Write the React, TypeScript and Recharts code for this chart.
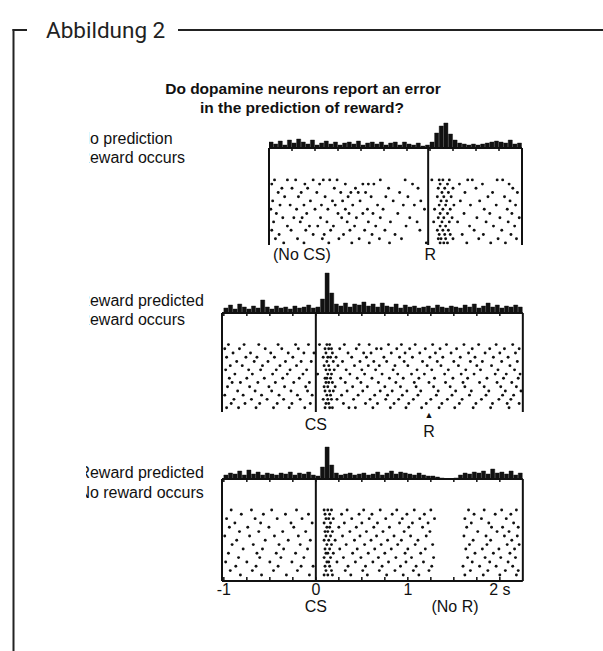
import React from "react";
import {
  Bar,
  BarChart,
  ReferenceLine,
  Scatter,
  ScatterChart,
  XAxis,
  YAxis,
} from "recharts";

// histogram bin width (s) and horizontal scale shared by all panels
const BIN = 0.05;
const PX_PER_S = 92;
const CS_TIME = 0;
const R_TIME = 1.23;

// histograms, 0.05 s bins (px-high counts)
const hist1 = [
  6, 4, 7, 3, 8, 5, 9, 6, 4, 8, 3, 5, 7, 4, 6, 3, 5, 6, 4, 7, 3, 5, 6, 4, 6, 3, 5, 6, 3, 6,
  4, 3, 5, 2, 3, 6, 15, 22, 25, 14, 8, 5, 4, 3, 4, 3, 4, 5, 6, 7, 6, 5, 8, 4, 5,
];
const hist2 = [
  5, 8, 4, 9, 6, 4, 7, 5, 13, 6, 4, 7, 5, 6, 4, 7, 5, 6, 8, 5, 6, 14, 40, 20, 9, 7, 10, 6, 9, 8,
  11, 7, 9, 6, 10, 7, 6, 9, 5, 8, 6, 7, 5, 6, 7, 5, 8, 6, 5, 7, 6, 5, 8, 6, 9, 5, 7, 10, 6, 8,
  5, 7, 6, 8, 6,
];
const hist3 = [
  4, 6, 5, 8, 4, 9, 5, 7, 4, 6, 5, 4, 6, 5, 7, 4, 6, 5, 7, 4, 3, 12, 32, 14, 6, 4, 5, 6, 4, 5,
  6, 4, 5, 7, 4, 6, 8, 5, 7, 6, 5, 4, 6, 4, 3, 3, 2, 1, 0, 0, 1, 4, 6, 5, 7, 6, 8, 5, 10, 6,
  7, 5, 8, 4, 6,
];

// spike rasters: one row per trial, spike times in s relative to CS
const raster1 = [
  [-0.44, -0.3, -0.21, -0.02, 0.09, 0.16, 0.24, 0.71, 0.98, 1.27, 1.35, 1.39, 1.46, 1.66, 1.71, 1.98, 2.04],
  [-0.47, -0.11, 0.05, 0.33, 0.52, 0.58, 0.64, 1.06, 1.36, 1.44, 1.57, 1.82, 2.11],
  [-0.36, -0.25, -0.08, 0.21, 0.44, 0.8, 1.12, 1.34, 1.41, 1.5, 1.75, 2.15],
  [-0.4, -0.15, 0.02, 0.28, 0.39, 0.47, 0.55, 0.92, 1.38, 1.45, 1.63, 1.93, 2.2],
  [-0.33, -0.18, 0.11, 0.36, 0.61, 0.77, 1.01, 1.33, 1.4, 1.48, 1.88, 2.06],
  [-0.46, -0.05, 0.19, 0.3, 0.49, 0.85, 1.15, 1.37, 1.43, 1.58, 1.79, 2.12],
  [-0.38, -0.27, -0.12, 0.07, 0.22, 0.41, 0.68, 0.96, 1.08, 1.35, 1.42, 1.51, 1.69, 1.97, 2.18],
  [-0.48, -0.2, 0.0, 0.14, 0.33, 0.57, 0.74, 1.19, 1.3, 1.39, 1.47, 1.84, 2.09],
  [-0.42, -0.09, 0.25, 0.37, 0.52, 0.63, 0.9, 1.36, 1.44, 1.62, 1.9, 2.14],
  [-0.35, -0.23, -0.14, 0.06, 0.29, 0.45, 0.71, 1.03, 1.34, 1.4, 1.49, 1.76, 2.01, 2.22],
  [-0.45, -0.16, 0.13, 0.35, 0.58, 0.82, 1.11, 1.29, 1.38, 1.46, 1.55, 1.86, 2.1],
  [-0.3, -0.06, 0.03, 0.2, 0.43, 0.66, 0.99, 1.36, 1.42, 1.68, 1.94, 2.17],
  [-0.47, -0.26, -0.1, 0.17, 0.38, 0.54, 0.76, 1.14, 1.33, 1.39, 1.45, 1.73, 2.03],
  [-0.39, -0.02, 0.1, 0.31, 0.62, 0.87, 1.35, 1.41, 1.47, 1.6, 1.83, 2.13],
  [-0.43, -0.19, 0.08, 0.26, 0.48, 0.7, 0.94, 1.34, 1.37, 1.42, 1.5, 1.78, 1.99, 2.19],
  [-0.34, -0.12, 0.15, 0.4, 0.59, 0.81, 1.21, 1.36, 1.4, 1.44, 1.65, 1.91, 2.07],
];
const raster2 = [
  [-0.95, -0.78, -0.62, -0.41, -0.22, -0.08, 0.04, 0.12, 0.15, 0.31, 0.47, 0.58, 0.79, 0.93, 1.08, 1.27, 1.42, 1.61, 1.77, 1.96, 2.14],
  [-0.99, -0.83, -0.55, -0.37, -0.19, 0.1, 0.14, 0.17, 0.26, 0.44, 0.66, 0.71, 0.88, 1.02, 1.19, 1.35, 1.53, 1.7, 1.89, 2.05, 2.21],
  [-0.9, -0.71, -0.49, -0.3, -0.13, -0.02, 0.11, 0.18, 0.35, 0.52, 0.6, 0.82, 0.97, 1.13, 1.3, 1.47, 1.66, 1.84, 2.0, 2.17],
  [-0.97, -0.76, -0.64, -0.45, -0.25, 0.08, 0.13, 0.16, 0.22, 0.39, 0.55, 0.74, 0.91, 1.05, 1.24, 1.38, 1.57, 1.73, 1.93, 2.09],
  [-0.86, -0.67, -0.52, -0.33, -0.16, -0.05, 0.12, 0.19, 0.29, 0.48, 0.63, 0.77, 0.96, 1.16, 1.32, 1.5, 1.68, 1.81, 2.02, 2.19],
  [-0.93, -0.8, -0.58, -0.39, -0.21, 0.09, 0.14, 0.24, 0.42, 0.57, 0.69, 0.86, 1.0, 1.21, 1.36, 1.55, 1.75, 1.91, 2.11],
  [-0.98, -0.73, -0.6, -0.43, -0.28, -0.1, 0.11, 0.15, 0.2, 0.33, 0.5, 0.65, 0.84, 1.1, 1.26, 1.44, 1.63, 1.79, 1.98, 2.16],
  [-0.88, -0.69, -0.47, -0.31, -0.14, 0.02, 0.13, 0.17, 0.37, 0.53, 0.72, 0.89, 1.04, 1.18, 1.4, 1.58, 1.72, 1.95, 2.07, 2.22],
  [-0.94, -0.75, -0.56, -0.36, -0.18, 0.1, 0.12, 0.16, 0.27, 0.45, 0.61, 0.8, 0.95, 1.12, 1.29, 1.49, 1.65, 1.86, 2.04, 2.2],
  [-0.91, -0.82, -0.63, -0.44, -0.24, -0.07, 0.11, 0.14, 0.18, 0.32, 0.49, 0.68, 0.87, 1.07, 1.23, 1.41, 1.6, 1.78, 1.97, 2.13],
  [-0.96, -0.72, -0.51, -0.34, -0.11, 0.09, 0.13, 0.21, 0.4, 0.56, 0.75, 0.92, 1.09, 1.28, 1.46, 1.62, 1.83, 2.01, 2.18],
  [-0.85, -0.66, -0.48, -0.27, -0.09, 0.1, 0.15, 0.19, 0.34, 0.51, 0.7, 0.83, 0.99, 1.14, 1.33, 1.52, 1.69, 1.88, 2.06, 2.23],
  [-0.99, -0.79, -0.59, -0.4, -0.2, -0.04, 0.12, 0.16, 0.28, 0.46, 0.64, 0.78, 0.94, 1.11, 1.31, 1.48, 1.67, 1.85, 2.03, 2.15],
  [-0.89, -0.7, -0.53, -0.35, -0.17, 0.08, 0.13, 0.17, 0.23, 0.41, 0.59, 0.76, 0.9, 1.06, 1.25, 1.43, 1.59, 1.8, 1.99, 2.12],
  [-0.92, -0.77, -0.61, -0.42, -0.26, -0.06, 0.11, 0.14, 0.3, 0.54, 0.67, 0.85, 1.01, 1.2, 1.37, 1.56, 1.74, 1.92, 2.08, 2.21],
  [-0.97, -0.84, -0.65, -0.46, -0.29, -0.12, 0.1, 0.15, 0.18, 0.36, 0.43, 0.62, 0.81, 0.98, 1.15, 1.34, 1.51, 1.71, 1.9, 2.1],
];
const raster3 = [
  [-0.92, -0.7, -0.48, -0.21, 0.09, 0.13, 0.17, 0.34, 0.52, 0.7, 0.88, 1.07, 1.25, 1.66, 1.83, 2.02, 2.18],
  [-0.81, -0.57, -0.33, -0.08, 0.1, 0.15, 0.28, 0.47, 0.61, 0.83, 0.99, 1.18, 1.72, 1.95, 2.12],
  [-0.97, -0.66, -0.42, -0.15, 0.11, 0.14, 0.19, 0.39, 0.58, 0.76, 0.94, 1.13, 1.29, 1.62, 1.8, 2.07],
  [-0.88, -0.6, -0.27, -0.04, 0.09, 0.16, 0.31, 0.5, 0.67, 0.91, 1.05, 1.22, 1.69, 1.88, 2.15],
  [-0.94, -0.74, -0.51, -0.24, 0.12, 0.15, 0.25, 0.44, 0.63, 0.8, 1.01, 1.16, 1.64, 1.91, 2.03, 2.2],
  [-0.83, -0.62, -0.36, -0.11, 0.1, 0.13, 0.18, 0.37, 0.55, 0.73, 0.96, 1.24, 1.76, 1.97, 2.1],
  [-0.99, -0.72, -0.45, -0.19, 0.11, 0.16, 0.29, 0.48, 0.66, 0.85, 1.03, 1.2, 1.61, 1.85, 2.05, 2.19],
  [-0.86, -0.55, -0.3, -0.06, 0.09, 0.14, 0.21, 0.42, 0.6, 0.78, 0.93, 1.11, 1.71, 1.9, 2.13],
  [-0.91, -0.68, -0.4, -0.17, 0.12, 0.17, 0.33, 0.53, 0.71, 0.89, 1.08, 1.27, 1.67, 1.86, 2.08, 2.21],
  [-0.79, -0.58, -0.35, -0.09, 0.1, 0.15, 0.26, 0.45, 0.64, 0.82, 1.0, 1.19, 1.63, 1.81, 1.99, 2.16],
  [-0.95, -0.64, -0.43, -0.22, 0.11, 0.13, 0.19, 0.4, 0.57, 0.75, 0.97, 1.14, 1.73, 1.93, 2.11],
  [-0.84, -0.61, -0.38, -0.13, 0.09, 0.16, 0.3, 0.49, 0.68, 0.87, 1.04, 1.28, 1.65, 1.84, 2.01, 2.17],
  [-0.98, -0.75, -0.5, -0.26, 0.12, 0.14, 0.23, 0.43, 0.62, 0.79, 0.98, 1.17, 1.7, 1.89, 2.09],
  [-0.87, -0.65, -0.41, -0.16, -0.03, 0.1, 0.15, 0.35, 0.54, 0.72, 0.92, 1.09, 1.26, 1.6, 1.78, 1.96, 2.14],
  [-0.93, -0.69, -0.46, -0.2, 0.11, 0.17, 0.32, 0.51, 0.69, 0.86, 1.06, 1.23, 1.68, 1.87, 2.06, 2.2],
  [-0.82, -0.59, -0.32, -0.07, 0.09, 0.13, 0.18, 0.38, 0.56, 0.77, 0.95, 1.12, 1.62, 1.82, 2.0, 2.18],
];

const axisTicks = [-1, -0.75, -0.5, -0.25, 0, 0.25, 0.5, 0.75, 1, 1.25, 1.5, 1.75, 2];
const axisLabels: Record<string, string> = { "-1": "-1", "0": "0", "1": "1", "2": "2 s" };

const title = ["Do dopamine neurons report an error", "in the prediction of reward?"];
const panelLabels = [
  ["No prediction", "Reward occurs"],
  ["Reward predicted", "Reward occurs"],
  ["Reward predicted", "No reward occurs"],
];

const INK = "#111";
const SANS = "'Liberation Sans', Arial, sans-serif";

const panels = [
  { hist: hist1, histStart: -0.5, trials: raster1, tMin: -0.5, tMax: 2.25, left: 269, base: 148, histMax: 30, boxBottom: 245, yDomain: [-7.6, 15.5], event: R_TIME, axis: false },
  { hist: hist2, histStart: -1, trials: raster2, tMin: -1.02, tMax: 2.25, left: 222, base: 313, histMax: 50, boxBottom: 412, yDomain: [-7.5, 16], event: CS_TIME, axis: false },
  { hist: hist3, histStart: -1, trials: raster3, tMin: -1.02, tMax: 2.25, left: 222, base: 479, histMax: 36, boxBottom: 581, yDomain: [-7.15, 16.4], event: CS_TIME, axis: true },
];

const xOf = (p: any, t: number) => p.left + (t - p.tMin) * PX_PER_S;

const EmptyTick = () => <g />;

const AxisTick = (p: any) => {
  const lab = axisLabels[String(p.payload.value)];
  return (
    <g>
      <line x1={p.x} x2={p.x} y1={p.y - 4} y2={p.y} stroke={INK} strokeWidth={1.5} />
      {lab && (
        <text x={p.x} y={p.y + 9} textAnchor="middle" dominantBaseline="central" fontSize={16} fontFamily={SANS} fill={INK}>
          {lab}
        </text>
      )}
    </g>
  );
};

const SpikeDot = (p: any) => <circle cx={p.cx} cy={p.cy} r={1.45} fill={INK} />;

function Panel({ cfg }: { cfg: any }) {
  const M = 14;
  const w = (cfg.tMax - cfg.tMin) * PX_PER_S;
  const bins = cfg.hist.map((v: number, i: number) => ({ t: cfg.histStart + (i + 0.5) * BIN, v }));
  const dots = cfg.trials.flatMap((row: number[], k: number) => row.map((t) => ({ t, k })));
  const ticks = axisTicks.filter((t) => t >= cfg.tMin);
  const rasterH = cfg.boxBottom - cfg.base + (cfg.axis ? 30 : 0);
  const line = { stroke: INK, strokeWidth: 2 };
  return (
    <>
      <div style={{ position: "absolute", left: cfg.left - M, top: cfg.base }}>
        <ScatterChart width={w + 2 * M} height={rasterH} margin={{ top: 0, right: M, bottom: 0, left: M }}>
          <XAxis
            type="number"
            dataKey="t"
            domain={[cfg.tMin, cfg.tMax]}
            allowDataOverflow
            hide={!cfg.axis}
            ticks={axisTicks}
            interval={0}
            tickSize={0}
            tickMargin={0}
            tickLine={false}
            tick={<AxisTick />}
            axisLine={line}
            height={30}
          />
          <YAxis type="number" dataKey="k" domain={cfg.yDomain} reversed hide allowDataOverflow />
          <ReferenceLine x={cfg.tMin} {...line} />
          <ReferenceLine x={cfg.tMax} {...line} />
          <ReferenceLine x={cfg.event} {...line} />
          <Scatter data={dots} shape={SpikeDot} isAnimationActive={false} />
        </ScatterChart>
      </div>
      <div style={{ position: "absolute", left: cfg.left - M, top: cfg.base - cfg.histMax }}>
        <BarChart width={w + 2 * M} height={cfg.histMax + 6} data={bins} margin={{ top: 0, right: M, bottom: 0, left: M }} barCategoryGap={0}>
          <XAxis
            type="number"
            dataKey="t"
            domain={[cfg.tMin, cfg.tMax]}
            allowDataOverflow
            ticks={ticks}
            interval={0}
            tickSize={3}
            tick={<EmptyTick />}
            tickLine={{ stroke: INK, strokeWidth: 1.5 }}
            axisLine={line}
            height={6}
          />
          <YAxis hide width={0} domain={[0, cfg.histMax]} allowDataOverflow />
          <Bar dataKey="v" fill={INK} stroke={INK} strokeWidth={0.4} barSize={BIN * PX_PER_S} isAnimationActive={false} />
        </BarChart>
      </div>
    </>
  );
}

export default function App() {
  const labelY = [
    [138, 157],
    [300, 319],
    [472, 492],
  ];
  const clipX = [89, 89, 86];
  const [p1, p2, p3] = panels;
  return (
    <div style={{ position: "relative", width: 603, height: 651, background: "#fff", overflow: "hidden" }}>
      <style>{"body{margin:0}"}</style>
      {panels.map((p, i) => (
        <Panel key={i} cfg={p} />
      ))}
      <svg width={603} height={651} style={{ position: "absolute", left: 0, top: 0, pointerEvents: "none" }}>
        <defs>
          {clipX.map((x, i) => (
            <clipPath key={i} id={`lab${i}`}>
              <rect x={x} y={0} width={300} height={651} />
            </clipPath>
          ))}
        </defs>
        {/* frame */}
        <line x1={13.5} x2={13.5} y1={29} y2={651} stroke="#222" strokeWidth={2} />
        <line x1={12.5} x2={27} y1={30} y2={30} stroke="#222" strokeWidth={2} />
        <line x1={178} x2={603} y1={30} y2={30} stroke="#222" strokeWidth={2} />
        <text x={46} y={38} fontFamily="Roboto, sans-serif" fontSize={22.5} fill="#222">
          Abbildung 2
        </text>
        {/* title */}
        <g fontFamily={SANS} fontWeight="bold" fontSize={15.5} fill={INK} textAnchor="middle" dominantBaseline="central">
          <text x={303} y={88}>{title[0]}</text>
          <text x={302} y={107}>{title[1]}</text>
        </g>
        {/* condition labels, cut at the left like the scan */}
        {panelLabels.map((pair, i) => (
          <g key={i} clipPath={`url(#lab${i})`} fontFamily={SANS} fontSize={16} fill={INK} dominantBaseline="central">
            <text x={78.4} y={labelY[i][0]}>{pair[0]}</text>
            <text x={78.4} y={labelY[i][1]}>{pair[1]}</text>
          </g>
        ))}
        <g fontFamily={SANS} fontSize={16} fill={INK} dominantBaseline="central">
          <text x={273} y={254}>(No CS)</text>
          <text x={xOf(p1, R_TIME) + 2} y={254} textAnchor="middle">R</text>
          <text x={xOf(p2, CS_TIME)} y={424} textAnchor="middle">CS</text>
          <text x={xOf(p2, R_TIME)} y={415} textAnchor="middle" fontSize={9}>▲</text>
          <text x={xOf(p2, R_TIME)} y={431} textAnchor="middle">R</text>
          <text x={xOf(p3, CS_TIME)} y={606} textAnchor="middle">CS</text>
          <text x={455} y={606} textAnchor="middle">(No R)</text>
        </g>
      </svg>
    </div>
  );
}
